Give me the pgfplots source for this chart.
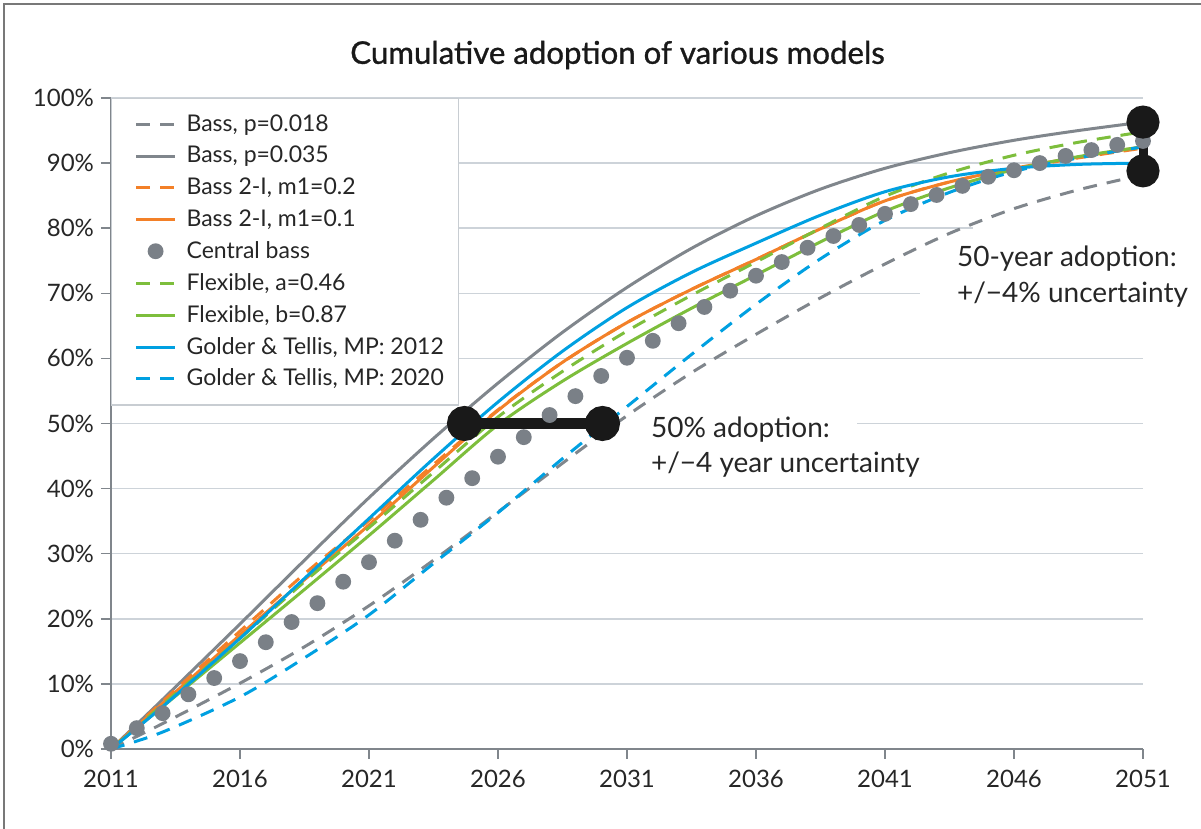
\documentclass[border=0pt]{standalone}
\usepackage{fontspec}
\setmainfont{Lato}
\newfontfamily\titlefont[FakeBold=1]{Lato}
\usepackage{pgfplots}
\pgfplotsset{compat=1.18}
\definecolor{cgray}{RGB}{128,134,140}
\definecolor{corange}{RGB}{243,128,40}
\definecolor{cgreen}{RGB}{125,190,60}
\definecolor{cblue}{RGB}{0,160,225}
\definecolor{gridc}{RGB}{205,211,217}
\definecolor{axisc}{RGB}{128,134,140}
\definecolor{framec}{RGB}{120,120,120}
\definecolor{dotc}{RGB}{122,128,135}
\definecolor{legc}{RGB}{200,205,210}
\begin{document}
\begin{tikzpicture}[x=1pt,y=1pt]
\path[use as bounding box] (0,0) rectangle (600.5,414.5);
\draw[framec, line width=0.8pt] (2,0) -- (2,412.5) -- (600.5,412.5);
\node[font=\titlefont\fontsize{15.6}{19}\selectfont, text=black!90] at (308.75,387) {Cumulative adoption of various models};
\begin{axis}[
  at={(55.5pt,40pt)}, anchor=south west, scale only axis,
  width=516pt, height=325.5pt,
  xmin=2011, xmax=2051, ymin=0, ymax=100, clip=false,
  axis lines*=left,
  axis line style={axisc, line width=1pt},
  tick style={axisc, line width=0.75pt},
  major tick length=5pt, tick align=outside,
  xtick={2011,2016,2021,2026,2031,2036,2041,2046,2051},
  xticklabels={2011,2016,2021,2026,2031,2036,2041,2046,2051},
  ytick={0,10,20,30,40,50,60,70,80,90,100},
  yticklabels={0\%,10\%,20\%,30\%,40\%,50\%,60\%,70\%,80\%,90\%,100\%},
  ticklabel style={font=\fontsize{12}{14}\selectfont, text=black!85},
  xticklabel style={yshift=-2pt},
  ymajorgrids, grid style={gridc, line width=0.75pt},
  legend style={at={(0,1)}, anchor=north west, draw=legc, line width=0.6pt,
    fill=white, font=\fontsize{11.5}{13.5}\selectfont, inner xsep=5.5pt, inner ysep=6pt,
    row sep=2pt, /tikz/every odd column/.append style={column sep=3pt},
    nodes={text=black!85}},
  legend cell align=left,
  legend image code/.code={\path (0pt,0pt); \draw[#1] (6pt,0pt) -- (25.5pt,0pt);},
  every axis plot/.append style={line width=1.5pt},
]
% masks hiding grid lines behind annotations
\fill[white] (axis cs:2044.4,78.6) rectangle (axis cs:2051.5,81.4);
\fill[white] (axis cs:2042.36,68.6) rectangle (axis cs:2051.5,71.4);
\fill[white] (axis cs:2030.0,48.6) rectangle (axis cs:2039.9,51.4);

\addplot[cgray, dash pattern=on 7pt off 5pt, smooth] coordinates {
(2011,0) (2013,3.9) (2016,10.1) (2018.5,15.7) (2021,22.0) (2023.5,29.0) (2026,36.4) (2028.5,43.9) (2031,51.2) (2033.5,57.8) (2036,63.7) (2038.5,69.3) (2041,74.5) (2043.5,79.2) (2046,83.0) (2048.5,85.9) (2051,88.2)};
\addlegendentry{Bass, p=0.018}
\addplot[cgray, smooth] coordinates {
(2011,0) (2013,7.6) (2016,19.2) (2018.5,29) (2021,38.6) (2023.5,47.7) (2026,56.2) (2028.5,64.0) (2031,70.9) (2033.5,76.9) (2036,81.9) (2038.5,86) (2041,89.2) (2043.5,91.6) (2046,93.5) (2048.5,95) (2051,96.3)};
\addlegendentry{Bass, p=0.035}
\addplot[corange, dash pattern=on 7pt off 5pt, smooth] coordinates {
(2011,0) (2013,7.3) (2016,18.1) (2018.5,26.9) (2021,35.1) (2023.5,43.7) (2026,52.1) (2028.5,59.4) (2031,65.5) (2033.5,70.6) (2036,75.2) (2038.5,79.9) (2041,84.2) (2043.5,87.1) (2046,89.1) (2048.5,90.8) (2051,92.3)};
\addlegendentry{Bass 2-I, m1=0.2}
\addplot[corange, smooth] coordinates {
(2011,0) (2013,7.0) (2016,17.5) (2018.5,26.0) (2021,34.4) (2023.5,43.3) (2026,52.0) (2028.5,59.4) (2031,65.5) (2033.5,70.6) (2036,75.2) (2038.5,79.9) (2041,84.2) (2043.5,87.1) (2046,89.2) (2048.5,90.9) (2051,92.5)};
\addlegendentry{Bass 2-I, m1=0.1}
\addplot[only marks, mark=*, mark size=3.2pt, dotc, mark options={draw=dotc, fill=dotc},
  legend image code/.code={\path (0pt,0pt) (25.5pt,0pt); \fill[dotc] (15.75pt,0pt) circle (3.2pt);}] coordinates {
(2011,0.8) (2012,3.2) (2013,5.5) (2014,8.4) (2015,10.9) (2016,13.5) (2017,16.4) (2018,19.5) (2019,22.4) (2020,25.7)
(2021,28.7) (2022,32.0) (2023,35.2) (2024,38.6) (2025,41.6) (2026,44.9) (2027,47.9) (2028,51.3) (2029,54.2) (2030,57.3)
(2031,60.1) (2032,62.7) (2033,65.4) (2034,67.9) (2035,70.4) (2036,72.7) (2037,74.8) (2038,77.0) (2039,78.8) (2040,80.5)
(2041,82.2) (2042,83.7) (2043,85.1) (2044,86.5) (2045,87.9) (2046,88.9) (2047,90.0) (2048,91.1) (2049,92.0) (2050,92.8) (2051,93.4)};
\addlegendentry{Central bass}
\addplot[cgreen, dash pattern=on 7pt off 5pt, smooth] coordinates {
(2011,0) (2013,6.8) (2016,17.0) (2018.5,25.7) (2021,34.0) (2023.5,42.5) (2026,51.0) (2028.5,58.0) (2031,64.2) (2033.5,69.7) (2036,74.8) (2038.5,80.0) (2041,84.9) (2043.5,88.5) (2046,91.2) (2048.5,93.2) (2051,94.8)};
\addlegendentry{Flexible, a=0.46}
\addplot[cgreen, smooth] coordinates {
(2011,0) (2013,6.5) (2016,16.3) (2018.5,24.5) (2021,32.8) (2023.5,41.3) (2026,49.8) (2028.5,56.5) (2031,62.3) (2033.5,67.7) (2036,72.8) (2038.5,77.9) (2041,82.6) (2043.5,86.2) (2046,89.0) (2048.5,91.0) (2051,92.5)};
\addlegendentry{Flexible, b=0.87}
\addplot[cblue, smooth] coordinates {
(2011,0) (2013,6.5) (2016,17.0) (2018.5,26.2) (2021,35.4) (2023.5,44.6) (2026,53.3) (2028.5,61.1) (2031,67.8) (2033.5,73.2) (2036,77.7) (2038.5,82.0) (2041,85.6) (2043.5,87.9) (2046,89.2) (2048.5,89.8) (2051,90.0)};
\addlegendentry{Golder \& Tellis, MP: 2012}
\addplot[cblue, dash pattern=on 7pt off 5pt, smooth] coordinates {
(2011,0) (2013,2.6) (2016,8) (2018.5,14) (2021,20.6) (2023.5,28.5) (2026,36.3) (2028.5,44.6) (2031,52.6) (2033.5,60.6) (2036,68.3) (2038.5,75.3) (2041,81.2) (2043.5,85.5) (2046,88.7) (2048.5,90.8) (2051,92.5)};
\addlegendentry{Golder \& Tellis, MP: 2020}

\addplot[black!90, line width=5.5pt, mark=*, mark size=6pt, forget plot] coordinates {(2024.7,50) (2030.05,50)};
\addplot[black!90, line width=4.5pt, mark=*, mark size=6pt, forget plot] coordinates {(2051,96.3) (2051,88.8)};
\end{axis}
\node[anchor=west, font=\fontsize{14}{16}\selectfont, text=black!85] at (322,199.5) {50\% adoption:};
\node[anchor=west, font=\fontsize{14}{16}\selectfont, text=black!85] at (322,182) {+/−4 year uncertainty};
\node[anchor=west, font=\fontsize{14}{16}\selectfont, text=black!85] at (475,285) {50-year adoption:};
\node[anchor=west, font=\fontsize{14}{16}\selectfont, text=black!85] at (475,267) {+/−4\% uncertainty};
\end{tikzpicture}
\end{document}
